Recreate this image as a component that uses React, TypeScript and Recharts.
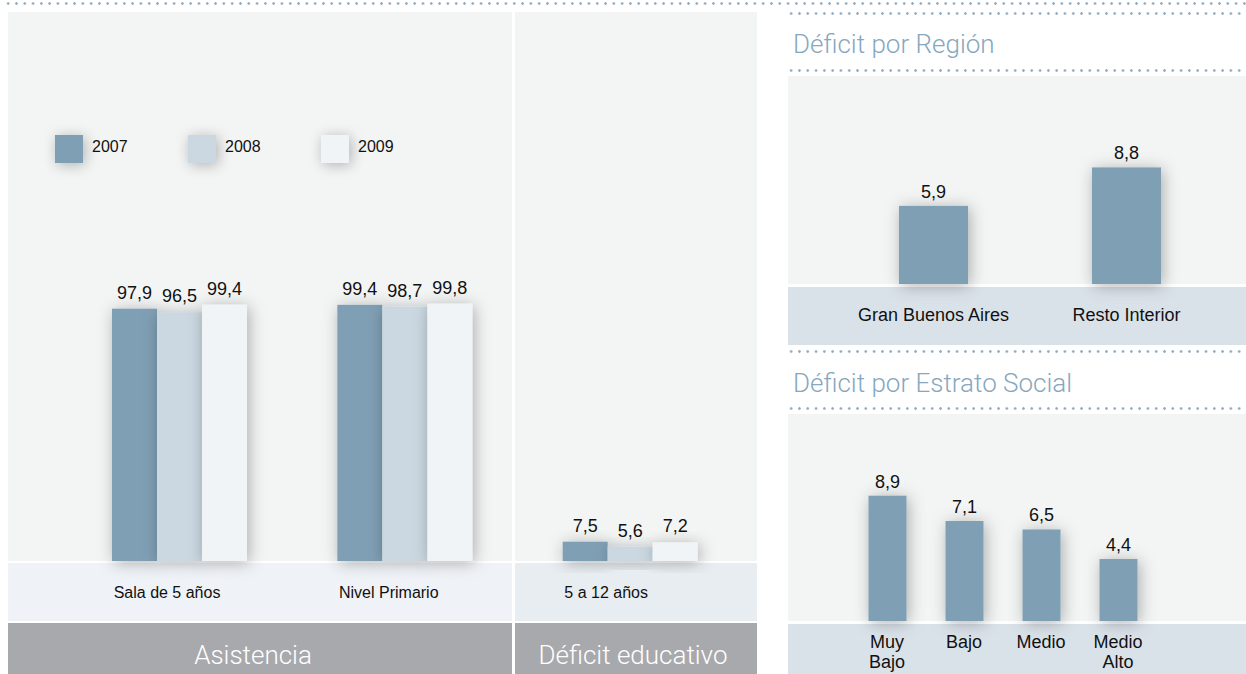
import { BarChart, Bar, XAxis, YAxis, LabelList, Legend } from "recharts"

const grupos = ["Sala de 5 años", "Nivel Primario", "5 a 12 años"]
const anios = ["2007", "2008", "2009"]
const valores2007 = [97.9, 99.4, 7.5]
const valores2008 = [96.5, 98.7, 5.6]
const valores2009 = [99.4, 99.8, 7.2]

const regiones = ["Gran Buenos Aires", "Resto Interior"]
const deficitRegion = [5.9, 8.8]

const estratos = ["Muy Bajo", "Bajo", "Medio", "Medio Alto"]
const deficitEstrato = [8.9, 7.1, 6.5, 4.4]

const coloresAnio = ["#7f9fb4", "#cbd8e1", "#f1f4f7"]
const azul = "#7f9fb4"
const sans = "'Liberation Sans', Arial, Helvetica, sans-serif"
const light = "Roboto, 'Liberation Sans', sans-serif"

const fmt = (v: any) => Number(v).toFixed(1).replace(".", ",")

const asistenciaData = grupos.map((g, i) => ({
  grupo: g,
  "2007": valores2007[i],
  "2008": valores2008[i],
  "2009": valores2009[i],
}))
const regionData = regiones.map((r, i) => ({ region: r, valor: deficitRegion[i] }))
const estratoData = estratos.map((e, i) => ({ estrato: e, valor: deficitEstrato[i] }))

function Dotted({ left, top, width }: { left: number; top: number; width: number }) {
  return (
    <div
      style={{
        position: "absolute",
        left,
        top: top - 1.5,
        width,
        height: 3,
        backgroundImage: "radial-gradient(circle, #93adc0 1.1px, transparent 1.5px)",
        backgroundSize: "8.3px 3px",
        backgroundRepeat: "repeat-x",
      }}
    />
  )
}

function Box({ left, top, width, height, bg }: { left: number; top: number; width: number; height: number; bg: string }) {
  return <div style={{ position: "absolute", left, top, width, height, background: bg }} />
}

function Shadow({ id }: { id: string }) {
  return (
    <defs>
      <filter id={id} x="-60%" y="-60%" width="220%" height="220%">
        <feDropShadow dx="2" dy="2" stdDeviation="8" floodColor="#000" floodOpacity="0.3" />
      </filter>
    </defs>
  )
}

const shadowRect = (id: string) => (p: any) =>
  <rect x={p.x} y={p.y} width={p.width} height={p.height} fill={p.fill} filter={`url(#${id})`} />

function LeyendaAnios() {
  return (
    <div style={{ position: "relative", width: 320, height: 30 }}>
      {anios.map((a, i) => (
        <div key={a} style={{ position: "absolute", left: i * 133, top: 0, display: "flex", alignItems: "center" }}>
          <div style={{ width: 28, height: 28, background: coloresAnio[i], boxShadow: "2px 2px 14px rgba(0,0,0,0.28)" }} />
          <span style={{ marginLeft: 9, marginTop: -4, fontFamily: sans, fontSize: 16, color: "#111" }}>{a}</span>
        </div>
      ))}
    </div>
  )
}

function GrupoTick({ x, y, payload }: any) {
  return (
    <text x={x - 66} y={y + 31} dominantBaseline="central" fontFamily={sans} fontSize={16} fill="#111">
      {payload.value}
    </text>
  )
}

function RegionTick({ x, y, payload }: any) {
  return (
    <text x={x} y={y + 31} textAnchor="middle" dominantBaseline="central" fontFamily={sans} fontSize={18} fill="#111">
      {payload.value}
    </text>
  )
}

function EstratoTick({ x, y, payload }: any) {
  const lineas = String(payload.value).split(" ")
  return (
    <text x={x} y={y + 21} textAnchor="middle" dominantBaseline="central" fontFamily={sans} fontSize={18} fill="#111">
      {lineas.map((l, i) => (
        <tspan key={l} x={x} dy={i === 0 ? 0 : 20}>
          {l}
        </tspan>
      ))}
    </text>
  )
}

const bandText = {
  position: "absolute" as const,
  top: 623,
  height: 51,
  paddingTop: 12,
  boxSizing: "border-box" as const,
  display: "flex",
  alignItems: "center",
  justifyContent: "center",
  fontFamily: light,
  fontWeight: 300,
  fontSize: 26,
  color: "#fff",
}

export default function App() {
  return (
    <div style={{ position: "absolute", left: 0, top: 0, width: 1246, height: 674, background: "#fff", overflow: "hidden" }}>
      {/* fondos panel izquierdo */}
      <Dotted left={4} top={3} width={1242} />
      <Box left={8} top={12} width={749} height={549} bg="#f3f5f5" />
      <Box left={8} top={563} width={504} height={58} bg="#eff3f7" />
      <Box left={515} top={563} width={242} height={58} bg="#e8edf1" />
      <Box left={8} top={623} width={504} height={51} bg="#a8a9ac" />
      <Box left={515} top={623} width={242} height={51} bg="#a8a9ac" />
      <Box left={512} top={12} width={3} height={662} bg="#ffffff" />
      <div style={{ ...bandText, left: 0, width: 506 }}>Asistencia</div>
      <div style={{ ...bandText, left: 512, width: 242 }}>Déficit educativo</div>

      <div style={{ position: "absolute", left: 8, top: 12 }}>
        <BarChart width={749} height={609} data={asistenciaData} margin={{ top: 0, right: 14, bottom: 0, left: 59 }} barGap={0} barSize={45}>
          <Shadow id="sombraA" />
          <XAxis dataKey="grupo" height={60} axisLine={false} tickLine={false} tickSize={0} tickMargin={0} tick={<GrupoTick />} interval={0} />
          <YAxis hide domain={[0, 213]} />
          <Legend
            layout="horizontal"
            verticalAlign="middle"
            align="center"
            wrapperStyle={{ left: 47, top: 123, width: 340 }}
            content={() => <LeyendaAnios />}
          />
          {anios.map((a, i) => (
            <Bar key={a} dataKey={a} fill={coloresAnio[i]} isAnimationActive={false} shape={shadowRect("sombraA")}>
              <LabelList dataKey={a} position="top" offset={10} formatter={fmt} fontFamily={sans} fontSize={18} fill="#111" />
            </Bar>
          ))}
        </BarChart>
      </div>

      {/* Déficit por Región */}
      <Dotted left={787} top={13} width={459} />
      <div style={{ position: "absolute", left: 793, top: 29, fontFamily: light, fontWeight: 300, fontSize: 26, color: "#87a7bd", whiteSpace: "nowrap" }}>
        Déficit por Región
      </div>
      <Dotted left={787} top={70} width={459} />
      <Box left={788} top={76} width={458} height={208} bg="#f3f5f5" />
      <Box left={788} top={287} width={458} height={58} bg="#dae2e9" />
      <div style={{ position: "absolute", left: 788, top: 76 }}>
        <BarChart width={458} height={269} data={regionData} margin={{ top: 0, right: 23, bottom: 0, left: 49 }} barSize={69}>
          <Shadow id="sombraR" />
          <XAxis dataKey="region" height={61} axisLine={false} tickLine={false} tickSize={0} tickMargin={0} tick={<RegionTick />} interval={0} />
          <YAxis hide domain={[0, 15.7]} />
          <Bar dataKey="valor" fill={azul} isAnimationActive={false} shape={shadowRect("sombraR")}>
            <LabelList dataKey="valor" position="top" offset={8} formatter={fmt} fontFamily={sans} fontSize={18} fill="#111" />
          </Bar>
        </BarChart>
      </div>

      {/* Déficit por Estrato Social */}
      <Dotted left={787} top={351} width={459} />
      <div style={{ position: "absolute", left: 793, top: 368, fontFamily: light, fontWeight: 300, fontSize: 26, color: "#87a7bd", whiteSpace: "nowrap" }}>
        Déficit por Estrato Social
      </div>
      <Dotted left={787} top={408} width={459} />
      <Box left={788} top={414} width={458} height={207} bg="#f3f5f5" />
      <Box left={788} top={624} width={458} height={50} bg="#dae2e9" />
      <div style={{ position: "absolute", left: 788, top: 414 }}>
        <BarChart width={458} height={260} data={estratoData} margin={{ top: 0, right: 89.5, bottom: 0, left: 60.5 }} barSize={38}>
          <Shadow id="sombraE" />
          <XAxis dataKey="estrato" height={53} axisLine={false} tickLine={false} tickSize={0} tickMargin={0} tick={<EstratoTick />} interval={0} />
          <YAxis hide domain={[0, 14.7]} />
          <Bar dataKey="valor" fill={azul} isAnimationActive={false} shape={shadowRect("sombraE")}>
            <LabelList dataKey="valor" position="top" offset={8} formatter={fmt} fontFamily={sans} fontSize={18} fill="#111" />
          </Bar>
        </BarChart>
      </div>
    </div>
  )
}
